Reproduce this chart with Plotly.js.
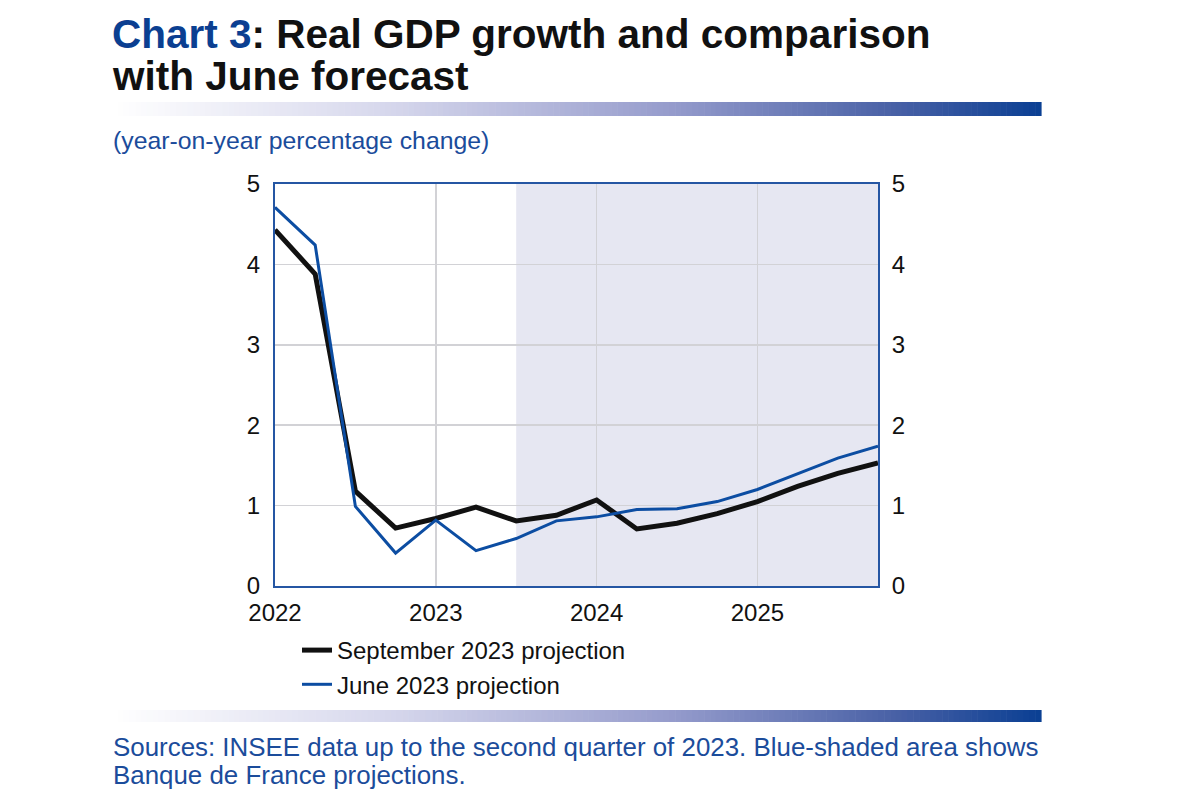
<!DOCTYPE html>
<html>
<head>
<meta charset="utf-8">
<script src="https://cdn.plot.ly/plotly-3.0.1.min.js"></script>
<style>
  html, body { margin: 0; padding: 0; background: #ffffff; }
  #chart { width: 1200px; height: 800px; }
</style>
</head>
<body>
<div id="chart"></div>
<script>
// ---- Data ----
const quarters = ["2022Q1","2022Q2","2022Q3","2022Q4",
                  "2023Q1","2023Q2","2023Q3","2023Q4",
                  "2024Q1","2024Q2","2024Q3","2024Q4",
                  "2025Q1","2025Q2","2025Q3","2025Q4"];
const septProjection = [4.43, 3.88, 1.18, 0.72, 0.84, 0.98, 0.81, 0.88,
                        1.07, 0.71, 0.78, 0.90, 1.05, 1.24, 1.40, 1.53];
const juneProjection = [4.71, 4.24, 0.99, 0.41, 0.82, 0.44, 0.59, 0.81,
                        0.86, 0.95, 0.96, 1.05, 1.20, 1.39, 1.59, 1.74];
const yearTicks = [2022, 2023, 2024, 2025];
const yearLabels = ["2022", "2023", "2024", "2025"];
const valueTicks = [0, 1, 2, 3, 4, 5];
const projectionStart = "2023Q3";
const seriesNames = ["September 2023 projection", "June 2023 projection"];

// quarter label -> numeric position on the time axis
function qPos(q) { return parseInt(q.slice(0, 4)) + (parseInt(q.slice(5)) - 1) / 4; }
const xPos = quarters.map(qPos);

// ---- Layout geometry (pixels) ----
const W = 1200, H = 800;
const L = 275, R = 878, T = 184, B = 586;
const px2x = p => (p - L) / (R - L);
const py2y = p => (B - p) / (B - T);

const FONT = "Liberation Sans, Arial, Helvetica, sans-serif";
const TEXTBLUE = "#1b4c9b";
const FRAME = "#2556a3";

// gradient bars built from many thin rectangles
function gradientBar(x0, x1, y0, y1, n) {
  const stops = [[0, [255,255,255]], [0.3, [214,215,236]], [0.6, [150,156,204]], [0.85, [70,95,165]], [1, [10,63,147]]];
  function col(t) {
    for (let i = 0; i < stops.length - 1; i++) {
      const [a, ca] = stops[i], [b, cb] = stops[i+1];
      if (t >= a && t <= b) {
        const f = (t - a) / (b - a);
        return "rgb(" + ca.map((c, k) => Math.round(c + (cb[k] - c) * f)).join(",") + ")";
      }
    }
    return "rgb(10,63,147)";
  }
  const out = [];
  const w = (x1 - x0) / n;
  for (let i = 0; i < n; i++) {
    out.push({
      type: "rect", xref: "paper", yref: "paper", layer: "above",
      x0: px2x(x0 + i * w), x1: px2x(x0 + (i + 1) * w + 0.6),
      y0: py2y(y1), y1: py2y(y0),
      fillcolor: col((i + 0.5) / n), line: { width: 0 }
    });
  }
  return out;
}

const shapes = [
  {
    type: "rect", xref: "x", yref: "paper", layer: "below",
    x0: qPos(projectionStart), x1: xPos[xPos.length - 1], y0: 0, y1: 1,
    fillcolor: "#e6e7f2", line: { width: 0 }
  }
].concat(gradientBar(112, 1041, 102, 116, 160))
 .concat(gradientBar(112, 1041, 710, 722, 160));

const traces = [
  {
    x: xPos, y: septProjection, name: seriesNames[0], type: "scatter", mode: "lines",
    line: { color: "#111111", width: 5 }, hoverinfo: "x+y"
  },
  {
    x: xPos, y: juneProjection, name: seriesNames[1], type: "scatter", mode: "lines",
    line: { color: "#0c4da2", width: 3 }, hoverinfo: "x+y"
  },
  {
    // mirror axis carrier (invisible) for the right-hand scale
    x: xPos, y: septProjection, yaxis: "y2", type: "scatter", mode: "lines",
    line: { color: "rgba(0,0,0,0)", width: 1 }, showlegend: false, hoverinfo: "skip"
  }
];

const layout = {
  width: W, height: H,
  paper_bgcolor: "#ffffff", plot_bgcolor: "#ffffff",
  margin: { l: L, r: W - R, t: T, b: H - B, pad: 0 },
  font: { family: FONT, size: 24, color: "#111111" },
  showlegend: true,
  xaxis: {
    range: [xPos[0], xPos[xPos.length - 1]],
    tickmode: "array", tickvals: yearTicks, ticktext: yearLabels,
    showgrid: true, gridcolor: "#d2d2d6", gridwidth: 1.5,
    zeroline: false,
    showline: true, linecolor: FRAME, linewidth: 2, mirror: true,
    ticks: "outside", ticklen: 4, tickcolor: "rgba(0,0,0,0)",
    tickfont: { family: FONT, size: 24, color: "#111111" }
  },
  yaxis: {
    range: [0, 5], tickmode: "array", tickvals: valueTicks,
    showgrid: true, gridcolor: "#d2d2d6", gridwidth: 1.5,
    zeroline: false,
    showline: true, linecolor: FRAME, linewidth: 2, mirror: true,
    ticks: "outside", ticklen: 8, tickcolor: "rgba(0,0,0,0)",
    tickfont: { family: FONT, size: 24, color: "#111111" }
  },
  yaxis2: {
    overlaying: "y", side: "right", range: [0, 5],
    tickmode: "array", tickvals: valueTicks,
    showgrid: false, zeroline: false, showline: false,
    ticks: "outside", ticklen: 8, tickcolor: "rgba(0,0,0,0)",
    tickfont: { family: FONT, size: 24, color: "#111111" }
  },
  legend: {
    x: px2x(297), xanchor: "left", y: py2y(628), yanchor: "top",
    orientation: "v", bgcolor: "rgba(0,0,0,0)",
    font: { family: FONT, size: 24, color: "#111111" },
    tracegroupgap: 0
  },
  shapes: shapes,
  annotations: [
    {
      xref: "paper", yref: "paper", x: px2x(110), y: py2y(34), xanchor: "left", yanchor: "middle",
      showarrow: false, align: "left",
      text: "<b><span style=\"color:#0b3f91\">Chart 3</span>: Real GDP growth and comparison</b>",
      font: { family: FONT, size: 40.5, color: "#111111" }
    },
    {
      xref: "paper", yref: "paper", x: px2x(110), y: py2y(76), xanchor: "left", yanchor: "middle",
      showarrow: false, align: "left",
      text: "<b>with June forecast</b>",
      font: { family: FONT, size: 40.5, color: "#111111" }
    },
    {
      xref: "paper", yref: "paper", x: px2x(111), y: py2y(140), xanchor: "left", yanchor: "middle",
      showarrow: false, align: "left",
      text: "(year-on-year percentage change)",
      font: { family: FONT, size: 24.8, color: TEXTBLUE }
    },
    {
      xref: "paper", yref: "paper", x: px2x(111), y: py2y(747), xanchor: "left", yanchor: "middle",
      showarrow: false, align: "left",
      text: "Sources: INSEE data up to the second quarter of 2023. Blue-shaded area shows",
      font: { family: FONT, size: 25.9, color: TEXTBLUE }
    },
    {
      xref: "paper", yref: "paper", x: px2x(111), y: py2y(775), xanchor: "left", yanchor: "middle",
      showarrow: false, align: "left",
      text: "Banque de France projections.",
      font: { family: FONT, size: 25.9, color: TEXTBLUE }
    }
  ]
};

Plotly.newPlot("chart", traces, layout, { displayModeBar: false, staticPlot: true });
</script>
</body>
</html>
